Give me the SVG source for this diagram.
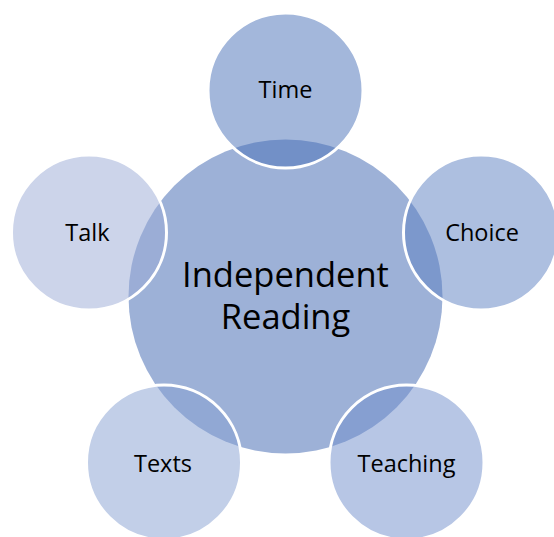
<svg xmlns="http://www.w3.org/2000/svg" width="554" height="537" viewBox="0 0 554 537">
<style>
.lbl{font-family:"Open Sans","Liberation Sans",sans-serif;fill:#000;text-anchor:middle}
.outer{stroke:#fff;stroke-width:3;fill-opacity:0.5}
.sm{font-size:23.5px}
</style>
<rect width="554" height="537" fill="#fff"/>
<g id="center">
<circle cx="285.5" cy="296.5" r="157" fill="#9DB1D7"/>
<text class="lbl" x="285.5" y="286.5" font-size="34.5">Independent</text>
<text class="lbl" x="285.5" y="329" font-size="34.5">Reading</text>
</g>
<g id="connectors"></g>
<g id="time">
<circle class="outer" cx="285.5" cy="90.5" r="77.5" fill="#476FB7"/>
<text class="lbl sm" x="285.5" y="98">Time</text>
</g>
<g id="choice">
<circle class="outer" cx="481" cy="232.5" r="77.5" fill="#5B7FC1"/>
<text class="lbl sm" x="482" y="240.5">Choice</text>
</g>
<g id="teaching">
<circle class="outer" cx="406.5" cy="462.5" r="77.5" fill="#6F8DCB"/>
<text class="lbl sm" x="406.5" y="471.5">Teaching</text>
</g>
<g id="texts">
<circle class="outer" cx="164" cy="462.5" r="77.5" fill="#859FD1"/>
<text class="lbl sm" x="163" y="471.5">Texts</text>
</g>
<g id="talk">
<circle class="outer" cx="89" cy="232.5" r="77.5" fill="#99A9D5"/>
<text class="lbl sm" x="87.5" y="240.5">Talk</text>
</g>
</svg>
